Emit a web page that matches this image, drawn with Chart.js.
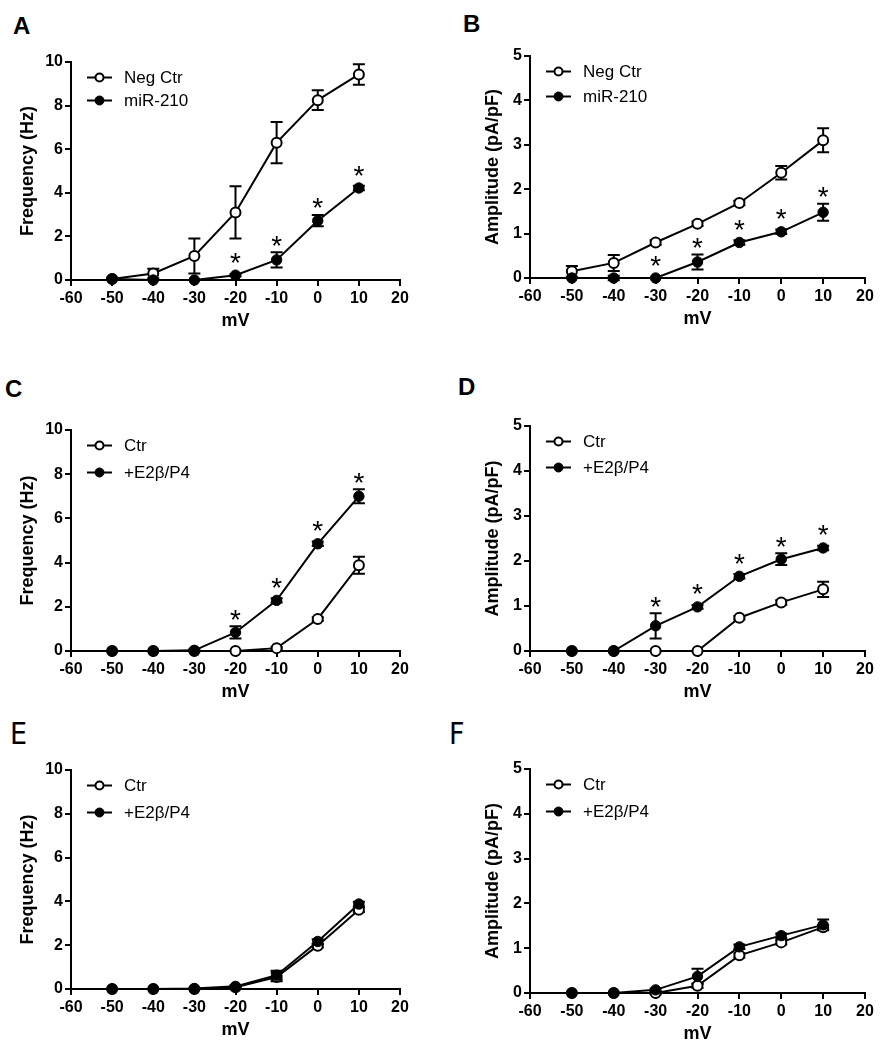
<!DOCTYPE html>
<html>
<head>
<meta charset="utf-8">
<script src="https://cdn.jsdelivr.net/npm/chart.js@4.4.1/dist/chart.umd.min.js"></script>
<style>
    body { margin: 0; background: #fff; }
    #page { position: relative; width: 882px; height: 1050px; overflow: hidden; }
    .panel { position: absolute; }
    .letter { position: absolute; font: bold 24px "Liberation Sans", Arial, sans-serif; line-height: 1; color: #000; }
    .letter.thin { font: 30px "Liberation Sans Narrow", "DejaVu Sans Condensed", sans-serif; line-height: 1; }
</style>
</head>
<body>
<div id="page"></div>
<script>
// shared x values and ticks
const mV = [-50, -40, -30, -20, -10, 0, 10];
const xTicks = [-60, -50, -40, -30, -20, -10, 0, 10, 20];
const freqTicks = [0, 2, 4, 6, 8, 10];
const ampTicks = [0, 1, 2, 3, 4, 5];

// A: frequency, Neg Ctr vs miR-210
const aOpen = [0.05, 0.3, 1.1, 3.1, 6.3, 8.25, 9.43];
const aOpenErr = [0.05, 0.22, 0.8, 1.2, 0.95, 0.45, 0.47];
const aFilled = [0.05, 0, 0, 0.22, 0.92, 2.72, 4.22];
const aFilledErr = [0, 0, 0, 0.05, 0.35, 0.26, 0.1];
const aStars = [0, 0, 0, 1, 1, 1, 1];

// B: amplitude, Neg Ctr vs miR-210
const bOpen = [0.15, 0.34, 0.8, 1.22, 1.69, 2.37, 3.1];
const bOpenErr = [0.12, 0.18, 0.05, 0.05, 0.05, 0.15, 0.27];
const bFilled = [0, 0, 0, 0.36, 0.8, 1.04, 1.48];
const bFilledErr = [0, 0.05, 0, 0.17, 0.05, 0.05, 0.19];
const bStars = [0, 0, 1, 1, 1, 1, 1];

// C: frequency, Ctr vs +E2b/P4
const cOpen = [0, 0, 0, 0, 0.13, 1.45, 3.88];
const cOpenErr = [0, 0, 0, 0, 0.05, 0.08, 0.38];
const cFilled = [0, 0, 0.03, 0.84, 2.29, 4.85, 7.0];
const cFilledErr = [0, 0, 0.05, 0.28, 0.1, 0.1, 0.32];
const cStars = [0, 0, 0, 1, 1, 1, 1];

// D: amplitude, Ctr vs +E2b/P4
const dOpen = [0, 0, 0, 0, 0.74, 1.08, 1.37];
const dOpenErr = [0, 0, 0, 0, 0.04, 0.05, 0.17];
const dFilled = [0, 0, 0.56, 0.98, 1.66, 2.04, 2.29];
const dFilledErr = [0, 0, 0.28, 0.04, 0.05, 0.13, 0.05];
const dStars = [0, 0, 1, 1, 1, 1, 1];

// E: frequency, no difference
const eOpen = [0, 0, 0, 0.08, 0.55, 1.98, 3.62];
const eOpenErr = [0, 0, 0, 0.03, 0.2, 0.08, 0.1];
const eFilled = [0, 0, 0.02, 0.12, 0.63, 2.17, 3.88];
const eFilledErr = [0, 0, 0.02, 0.05, 0.2, 0.1, 0.1];
const eStars = [0, 0, 0, 0, 0, 0, 0];

// F: amplitude, no difference
const fOpen = [0, 0, 0, 0.16, 0.84, 1.13, 1.47];
const fOpenErr = [0, 0, 0.03, 0.05, 0.05, 0.05, 0.05];
const fFilled = [0, 0, 0.07, 0.37, 1.03, 1.28, 1.52];
const fFilledErr = [0, 0, 0.03, 0.17, 0.05, 0.05, 0.12];
const fStars = [0, 0, 0, 0, 0, 0, 0];

const FONT = '"Liberation Sans", Arial, sans-serif';

const panels = [
    { id: "A", col: 0, top: 62, bottom: 280, yTicks: freqTicks, yTitle: "Frequency (Hz)", names: ["Neg Ctr", "miR-210"],
      open: aOpen, openErr: aOpenErr, filled: aFilled, filledErr: aFilledErr, stars: aStars, gap: 23, letter: [13, 14] },
    { id: "B", col: 1, top: 56, bottom: 278, yTicks: ampTicks, yTitle: "Amplitude (pA/pF)", names: ["Neg Ctr", "miR-210"],
      open: bOpen, openErr: bOpenErr, filled: bFilled, filledErr: bFilledErr, stars: bStars, gap: 25, letter: [463, 12] },
    { id: "C", col: 0, top: 430, bottom: 651, yTicks: freqTicks, yTitle: "Frequency (Hz)", names: ["Ctr", "+E2\u03b2/P4"],
      open: cOpen, openErr: cOpenErr, filled: cFilled, filledErr: cFilledErr, stars: cStars, gap: 27, letter: [5, 377] },
    { id: "D", col: 1, top: 426, bottom: 651, yTicks: ampTicks, yTitle: "Amplitude (pA/pF)", names: ["Ctr", "+E2\u03b2/P4"],
      open: dOpen, openErr: dOpenErr, filled: dFilled, filledErr: dFilledErr, stars: dStars, gap: 26, letter: [458, 375] },
    { id: "E", col: 0, top: 770, bottom: 989, yTicks: freqTicks, yTitle: "Frequency (Hz)", names: ["Ctr", "+E2\u03b2/P4"],
      open: eOpen, openErr: eOpenErr, filled: eFilled, filledErr: eFilledErr, stars: eStars, gap: 27, letter: [10, 719], thin: true },
    { id: "F", col: 1, top: 769, bottom: 993, yTicks: ampTicks, yTitle: "Amplitude (pA/pF)", names: ["Ctr", "+E2\u03b2/P4"],
      open: fOpen, openErr: fOpenErr, filled: fFilled, filledErr: fFilledErr, stars: fStars, gap: 27, letter: [449, 719], thin: true }
];

// error bars under the markers
const errorBars = {
    id: "errorBars",
    beforeDatasetsDraw(chart) {
        const ctx = chart.ctx;
        const y = chart.scales.y;
        ctx.save();
        ctx.strokeStyle = "#000";
        ctx.lineWidth = 2;
        chart.data.datasets.forEach((ds, di) => {
            const meta = chart.getDatasetMeta(di);
            meta.data.forEach((pt, i) => {
                const e = ds.err[i];
                if (!e) return;
                const v = ds.data[i].y;
                const top = y.getPixelForValue(v + e);
                const bot = y.getPixelForValue(v - e);
                ctx.beginPath();
                ctx.moveTo(pt.x, top); ctx.lineTo(pt.x, bot);
                ctx.moveTo(pt.x - 6, top); ctx.lineTo(pt.x + 6, top);
                ctx.moveTo(pt.x - 6, bot); ctx.lineTo(pt.x + 6, bot);
                ctx.stroke();
            });
        });
        ctx.restore();
    }
};

// significance stars and the legend inside the plot
const extras = {
    id: "extras",
    afterDatasetsDraw(chart) {
        const ctx = chart.ctx;
        const y = chart.scales.y;
        const area = chart.chartArea;
        const filled = chart.data.datasets[0];
        const open = chart.data.datasets[1];
        ctx.save();
        ctx.fillStyle = "#000";
        ctx.font = "28px " + FONT;
        ctx.textAlign = "center";
        ctx.textBaseline = "alphabetic";
        chart.getDatasetMeta(0).data.forEach((pt, i) => {
            if (!filled.stars[i]) return;
            const v = filled.data[i].y;
            const top = Math.min(y.getPixelForValue(v + filled.err[i]), pt.y - 6);
            ctx.fillText("*", pt.x, top - 14 + 16.5);
        });

        // legend
        const rows = [open, filled];
        const sizes = [4, 4.5];
        ctx.font = "17px " + FONT;
        ctx.textAlign = "left";
        ctx.textBaseline = "middle";
        rows.forEach((ds, r) => {
            const ry = area.top + 15.5 + r * chart.options.legendGap;
            const lx = area.left + 16;
            ctx.strokeStyle = "#000";
            ctx.lineWidth = 2;
            ctx.beginPath();
            ctx.moveTo(lx, ry); ctx.lineTo(lx + 25, ry);
            ctx.stroke();
            ctx.beginPath();
            ctx.arc(lx + 12.5, ry, sizes[r], 0, Math.PI * 2);
            ctx.fillStyle = ds.pointBackgroundColor;
            ctx.fill();
            ctx.lineWidth = ds.pointBorderWidth;
            ctx.stroke();
            ctx.fillStyle = "#000";
            ctx.fillText(ds.label, area.left + 53, ry + 1);
        });
        ctx.restore();
    }
};

const page = document.getElementById("page");

panels.forEach(p => {
    const left = p.col === 0 ? 0 : 441;
    const yWidth = p.col === 0 ? 71 : 89;
    const padRight = p.col === 0 ? 41 : 17;
    const titlePad = p.col === 0 ? 17 : 41;
    const height = 20 + (p.bottom - p.top) + 55;

    const letter = document.createElement("div");
    letter.className = "letter" + (p.thin ? " thin" : "");
    letter.textContent = p.id;
    letter.style.left = p.letter[0] + "px";
    letter.style.top = p.letter[1] + "px";
    page.appendChild(letter);

    const holder = document.createElement("div");
    holder.className = "panel";
    holder.style.left = left + "px";
    holder.style.top = (p.top - 20) + "px";
    const canvas = document.createElement("canvas");
    canvas.width = 441;
    canvas.height = height;
    holder.appendChild(canvas);
    page.appendChild(holder);

    const tickFont = { family: FONT, size: 16, weight: "bold" };
    const titleFont = { family: FONT, size: 18, weight: "bold" };

    new Chart(canvas, {
        type: "line",
        data: {
            datasets: [
                {
                    label: p.names[1],
                    data: mV.map((x, i) => ({ x: x, y: p.filled[i] })),
                    err: p.filledErr,
                    stars: p.stars,
                    borderColor: "#000",
                    borderWidth: 2,
                    pointRadius: 5.2,
                    pointBorderWidth: 1,
                    pointBackgroundColor: "#000",
                    pointBorderColor: "#000",
                    tension: 0,
                    clip: false
                },
                {
                    label: p.names[0],
                    data: mV.map((x, i) => ({ x: x, y: p.open[i] })),
                    err: p.openErr,
                    borderColor: "#000",
                    borderWidth: 2,
                    pointRadius: 5,
                    pointBorderWidth: 2,
                    pointBackgroundColor: "#fff",
                    pointBorderColor: "#000",
                    tension: 0,
                    clip: false
                }
            ]
        },
        options: {
            responsive: false,
            animation: false,
            events: [],
            legendGap: p.gap,
            layout: { padding: { top: 20, left: 0, right: padRight, bottom: 0 } },
            plugins: { legend: { display: false }, tooltip: { enabled: false } },
            scales: {
                x: {
                    type: "linear",
                    min: -60,
                    max: 20,
                    afterBuildTicks: s => { s.ticks = xTicks.map(v => ({ value: v })); },
                    afterFit: s => { s.height = 55; },
                    grid: { drawOnChartArea: false, color: "#000", lineWidth: 2, tickLength: 6 },
                    border: { color: "#000", width: 2 },
                    ticks: { color: "#000", font: tickFont, padding: 3, maxRotation: 0, autoSkip: false },
                    title: { display: true, text: "mV", color: "#000", font: titleFont, padding: { top: 0, bottom: 3 } }
                },
                y: {
                    min: 0,
                    max: p.yTicks[p.yTicks.length - 1],
                    afterBuildTicks: s => { s.ticks = p.yTicks.map(v => ({ value: v })); },
                    afterFit: s => { s.width = yWidth; },
                    grid: { drawOnChartArea: false, color: "#000", lineWidth: 2, tickLength: 6 },
                    border: { color: "#000", width: 2 },
                    ticks: { color: "#000", font: tickFont, padding: 2 },
                    title: { display: true, text: p.yTitle, color: "#000", font: titleFont, padding: { top: titlePad, bottom: 0 } }
                }
            }
        },
        plugins: [errorBars, extras]
    });
});
</script>
</body>
</html>
